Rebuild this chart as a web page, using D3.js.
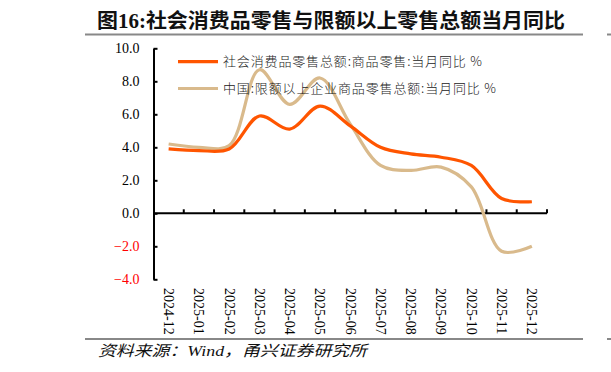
<!DOCTYPE html>
<html>
<head>
<meta charset="utf-8">
<script src="https://cdn.jsdelivr.net/npm/d3@7"></script>
<style>
  body { margin: 0; background: #fff; }
  svg { display: block; }
</style>
</head>
<body>
<svg id="chart" width="611" height="372"></svg>
<script>
var width = 611;
var height = 372;

// data
var months = ["2024-12", "2025-01", "2025-02", "2025-03", "2025-04", "2025-05", "2025-06",
              "2025-07", "2025-08", "2025-09", "2025-10", "2025-11", "2025-12"];
var retailGoods = [3.9, 3.8, 3.9, 5.9, 5.1, 6.5, 5.3, 4.0, 3.6, 3.4, 2.9, 0.9, 0.7];
var aboveLimit = [4.2, 4.0, 4.1, 8.7, 6.6, 8.2, 5.4, 2.9, 2.6, 2.8, 1.6, -2.3, -2.0];
var yTicks = [10, 8, 6, 4, 2, 0, -2, -4];
var seriesNames = ["社会消费品零售总额:商品零售:当月同比 %", "中国:限额以上企业商品零售总额:当月同比 %"];
var seriesColors = ["#ff5500", "#d9ba8c"];

var svg = d3.select("#chart");
var serif = "'Liberation Serif', 'Times New Roman', serif";
var cjk = "'Liberation Serif', 'Noto Sans CJK SC', sans-serif";

var x = d3.scaleBand().domain(months).range([153.5, 547]).paddingInner(0).paddingOuter(0);
var y = d3.scaleLinear().domain([-4, 10]).range([279.3, 48.3]);
var cx = function(d) { return x(d) + x.bandwidth() / 2; };

// title + rules
svg.append("text")
    .attr("x", 97).attr("y", 28)
    .attr("textLength", 468).attr("lengthAdjust", "spacingAndGlyphs")
    .style("font-family", cjk).style("font-weight", "bold").style("font-size", "20px")
    .style("fill", "#111")
    .text("图16:社会消费品零售与限额以上零售总额当月同比");

[34.5, 339].forEach(function(yy) {
    svg.append("line").attr("x1", 85).attr("x2", 583).attr("y1", yy).attr("y2", yy)
        .style("stroke", "#888").style("stroke-width", 2);
    svg.append("line").attr("x1", 607).attr("x2", 611).attr("y1", yy).attr("y2", yy)
        .style("stroke", "#888").style("stroke-width", 2);
});

// y axis
var yAxis = d3.axisLeft(y).tickValues(yTicks).tickSizeInner(-4).tickSizeOuter(0).tickPadding(14)
    .tickFormat(d3.format(".1f"));
var gy = svg.append("g").attr("transform", "translate(153.5,0)").call(yAxis);
gy.select(".domain").style("stroke", "#000").style("stroke-width", 2);
gy.selectAll(".tick line").style("stroke", "#000").style("stroke-width", 2);
gy.selectAll(".tick text")
    .style("font-family", serif).style("font-size", "14px")
    .style("fill", function(d) { return d < 0 ? "#ff0000" : "#000"; });

// x axis on the zero line, ticks pointing up at band edges
var gx = svg.append("g");
gx.append("line")
    .attr("x1", x.range()[0]).attr("x2", x.range()[1])
    .attr("y1", y(0)).attr("y2", y(0))
    .style("stroke", "#000").style("stroke-width", 2);
gx.selectAll("line.tk")
    .data(months)
    .enter()
    .append("line")
    .attr("class", "tk")
    .attr("x1", function(d) { return x(d) + x.bandwidth(); })
    .attr("x2", function(d) { return x(d) + x.bandwidth(); })
    .attr("y1", y(0)).attr("y2", y(0) - 4)
    .style("stroke", "#000").style("stroke-width", 2);

svg.selectAll("text.xl")
    .data(months)
    .enter()
    .append("text")
    .attr("class", "xl")
    .attr("transform", function(d) { return "translate(" + cx(d) + ",288) rotate(90)"; })
    .attr("dy", "0.33em")
    .style("font-family", serif).style("font-size", "14px").style("fill", "#000")
    .text(function(d) { return d; });

// lines
var line = d3.line()
    .x(function(d) { return cx(d.m); })
    .y(function(d) { return y(d.v); })
    .curve(d3.curveCatmullRom.alpha(0.5));

[aboveLimit, retailGoods].forEach(function(vals, i) {
    var idx = i === 0 ? 1 : 0;
    svg.append("path")
        .datum(months.map(function(m, j) { return { m: m, v: vals[j] }; }))
        .attr("d", line)
        .style("fill", "none")
        .style("stroke", seriesColors[idx])
        .style("stroke-width", 3.2)
        .style("stroke-linecap", "butt");
});

// legend
var legendY = [61.7, 88.5];
var legendW = [259, 273];
seriesNames.forEach(function(name, i) {
    svg.append("line")
        .attr("x1", 178).attr("x2", 218)
        .attr("y1", legendY[i]).attr("y2", legendY[i])
        .style("stroke", seriesColors[i]).style("stroke-width", 3.2);
    svg.append("text")
        .attr("x", 223).attr("y", legendY[i]).attr("dy", "0.36em")
        .attr("textLength", legendW[i]).attr("lengthAdjust", "spacing")
        .style("font-family", "'Noto Sans CJK SC', sans-serif").style("font-size", "13px")
        .style("font-weight", 300).style("fill", "#222")
        .text(name);
});

// source
svg.append("text")
    .attr("x", 98).attr("y", 356)
    .attr("textLength", 269).attr("lengthAdjust", "spacingAndGlyphs")
    .style("font-family", cjk).style("font-style", "italic").style("font-size", "15px")
    .style("fill", "#111")
    .text("资料来源：Wind，甬兴证券研究所");
</script>
</body>
</html>
